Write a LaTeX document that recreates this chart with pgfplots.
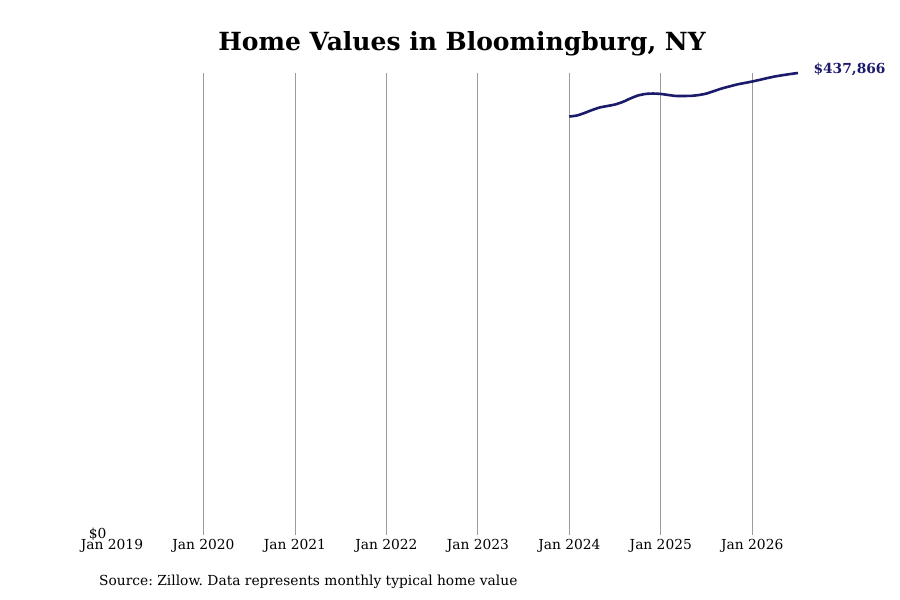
\documentclass[border=0pt]{standalone}
\usepackage{fontspec}
\setmainfont{DejaVu Serif}
\usepackage{pgfplots}
\pgfplotsset{compat=1.18}
\definecolor{navyline}{HTML}{1B1A6B}
\definecolor{gridgray}{HTML}{9A9A9A}
\begin{document}
\frenchspacing
\begin{tikzpicture}[x=1pt,y=1pt]
\useasboundingbox (0,0) rectangle (900,600);
\begin{axis}[
  at={(112pt,65pt)}, anchor=south west,
  scale only axis, width=686pt, height=462pt,
  xmin=2019, xmax=2026.5, ymin=0, ymax=437866,
  axis line style={draw=none},
  clip=false,
  scaled y ticks=false, scaled x ticks=false,
  xtick={2020,2021,2022,2023,2024,2025,2026},
  xticklabels={Jan 2020,Jan 2021,Jan 2022,Jan 2023,Jan 2024,Jan 2025,Jan 2026},
  extra x ticks={2019}, extra x tick labels={Jan 2019},
  extra x tick style={grid=none},
  xmajorgrids, major x grid style={gridgray, line width=0.8pt},
  ytick={0}, yticklabels={\$0},
  tick style={draw=none},
  ticklabel style={font=\fontsize{13.8}{15}\selectfont},
  xticklabel style={yshift=-1pt},
  yticklabel style={xshift=-2pt, yshift=1pt},
]
\addplot[navyline, line width=2.6pt, smooth, tension=0.4] coordinates {
(2024.0000,396600) (2024.0833,397600) (2024.1667,400000) (2024.2500,402800)
(2024.3333,405200) (2024.4167,406600) (2024.5000,408000) (2024.5833,410400)
(2024.6667,413700) (2024.7500,416500) (2024.8333,418000) (2024.9167,418400)
(2025.0000,418000) (2025.0833,417000) (2025.1667,416100) (2025.2500,416100)
(2025.3333,416200) (2025.4167,417000) (2025.5000,418400) (2025.5833,420800)
(2025.6667,423200) (2025.7500,425100) (2025.8333,427000) (2025.9167,428400)
(2026.0000,429800) (2026.0833,431400) (2026.1667,433100) (2026.2500,434600)
(2026.3333,435800) (2026.4167,436900) (2026.5000,437866)
};
\node[anchor=west, text=navyline, font=\fontsize{13.8}{15}\selectfont\bfseries, xshift=12pt, yshift=4pt] at (axis cs:2026.5,437866) {\$437,866};
\end{axis}
\node[font=\fontsize{25}{29}\selectfont\bfseries] at (462,556) {Home Values in Bloomingburg, NY};
\node[anchor=west, font=\fontsize{13.8}{15}\selectfont, inner sep=0pt] at (99,18) {Source: Zillow. Data represents monthly typical home value};
\end{tikzpicture}
\end{document}
